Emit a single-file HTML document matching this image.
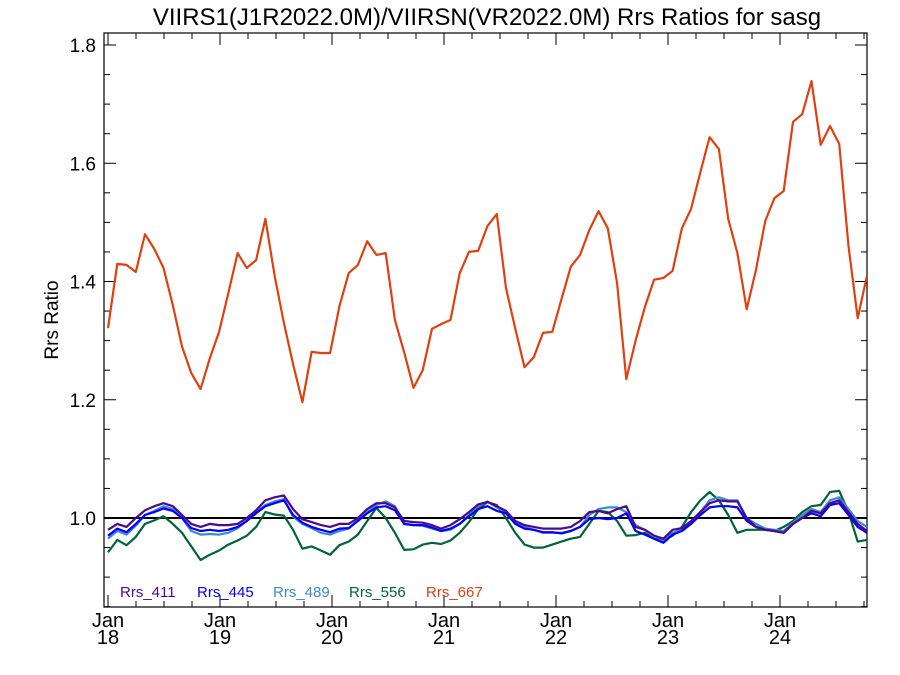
<!DOCTYPE html>
<html><head><meta charset="utf-8"><style>
body{margin:0;background:#fff;}
svg{display:block;font-family:"Liberation Sans",sans-serif;}
</style></head><body>
<svg id="chart" width="900" height="675" viewBox="0 0 900 675">
<text x="487" y="25" text-anchor="middle" font-size="24">VIIRS1(J1R2022.0M)/VIIRSN(VR2022.0M)  Rrs Ratios for sasg</text>
<text transform="translate(58,320) rotate(-90)" text-anchor="middle" font-size="19">Rrs Ratio</text>
<defs><clipPath id="pc"><rect x="104" y="33" width="763" height="574"/></clipPath></defs>
<g id="axes"></g>
<g id="series" clip-path="url(#pc)"></g>
<g id="legend"></g>
</svg>
<script>
const red=[1.321,1.430,1.428,1.416,1.480,1.455,1.423,1.36,1.29,1.245,1.218,1.27,1.315,1.38,1.448,1.423,1.436,1.506,1.41,1.33,1.26,1.196,1.281,1.279,1.279,1.358,1.414,1.428,1.468,1.445,1.448,1.335,1.28,1.220,1.250,1.320,1.328,1.335,1.414,1.450,1.452,1.494,1.514,1.389,1.32,1.255,1.272,1.313,1.315,1.37,1.425,1.445,1.487,1.519,1.490,1.397,1.235,1.30,1.357,1.403,1.406,1.418,1.490,1.523,1.585,1.644,1.624,1.506,1.448,1.353,1.419,1.502,1.541,1.553,1.670,1.683,1.739,1.631,1.663,1.633,1.46,1.338,1.41];
const green=[.942,.963,.954,.968,.990,.996,1.003,.99,.975,.952,.929,.938,.945,.955,.962,.970,.985,1.010,1.006,1.004,.98,.948,.952,.945,.938,.954,.960,.972,.995,1.017,1.000,.975,.946,.947,.955,.958,.956,.962,.975,.993,1.015,1.027,1.022,1.000,.975,.955,.950,.950,.955,.960,.965,.968,.990,1.012,1.010,.995,.970,.971,.975,.965,.963,.970,.985,1.010,1.030,1.044,1.030,1.005,.975,.980,.980,.980,.978,.985,.995,1.010,1.020,1.022,1.044,1.046,1.010,.960,.963];
const purple=[.980,.990,.985,1.000,1.013,1.020,1.025,1.020,1.005,.990,.985,.990,.988,.988,.990,1.000,1.013,1.030,1.035,1.038,1.015,.998,.993,.988,.985,.990,.990,1.000,1.015,1.025,1.025,1.018,.995,.993,.992,.988,.982,.988,.998,1.010,1.023,1.027,1.020,1.012,.995,.988,.985,.982,.982,.982,.985,.995,1.010,1.012,1.008,1.015,1.020,.985,.980,.970,.965,.980,.983,.995,1.010,1.025,1.030,1.028,1.028,1.000,.985,.980,.978,.975,.990,1.000,1.012,1.008,1.025,1.030,1.010,.990,.978];
const blue=[.970,.982,.976,.990,1.005,1.010,1.016,1.012,1.000,.983,.978,.980,.978,.980,.985,.995,1.008,1.020,1.025,1.030,1.005,.992,.985,.980,.976,.982,.983,.995,1.008,1.018,1.020,1.013,.990,.988,.988,.984,.978,.982,.990,1.003,1.015,1.020,1.012,1.008,.990,.982,.980,.976,.976,.974,.978,.985,.998,1.000,.998,1.000,1.008,.978,.972,.965,.958,.972,.978,.990,1.005,1.018,1.020,1.020,1.018,.995,.985,.980,.978,.975,.990,1.000,1.008,1.003,1.022,1.025,1.005,.985,.975];
const lblue=[.965,.978,.972,.987,1.005,1.012,1.020,1.015,1.000,.978,.972,.973,.972,.975,.983,.995,1.010,1.022,1.028,1.032,1.002,.990,.983,.975,.972,.978,.982,.997,1.010,1.022,1.028,1.020,.990,.988,.987,.982,.978,.980,.990,1.005,1.020,1.028,1.018,1.010,.992,.985,.980,.975,.975,.975,.978,.985,1.005,1.015,1.018,1.018,1.010,.988,.980,.970,.962,.975,.980,.995,1.010,1.030,1.035,1.030,1.030,1.000,.990,.982,.980,.978,.992,1.005,1.015,1.010,1.030,1.035,1.015,.995,.985];
const yTicks=["1.0","1.2","1.4","1.6","1.8"];
const xYears=["18","19","20","21","22","23","24"];
const seriesNames=["Rrs_411","Rrs_445","Rrs_489","Rrs_556","Rrs_667"];

const NS="http://www.w3.org/2000/svg";
const L=104,R=867,T=33,B=607;
const X0=2018,XPX=112,XOFF=108;
const XEND=X0+(R-XOFF)/XPX;
const sx=t=>XOFF+(t-X0)*XPX;
const sy=v=>518-(v-1.0)*591.25;
function mk(tag,attrs,parent){const e=document.createElementNS(NS,tag);for(const k in attrs)e.setAttribute(k,attrs[k]);parent.appendChild(e);return e;}
const ax=document.getElementById('axes');
const frame=mk('rect',{x:L,y:T,width:R-L,height:B-T,fill:'none',stroke:'#000','stroke-width':1.2},ax);


for(let k=0;k<=19;k++){
  const v=0.85+k*0.05;const y=sy(v);if(y<T)break;
  const major=((k-3)%4===0);
  const len=major?12:6;
  const t1=mk('line',{x1:L,x2:L+len,y1:y,y2:y,stroke:'#000'},ax);
  
  
  const t2=mk('line',{x1:R,x2:R-len,y1:y,y2:y,stroke:'#000'},ax);
  
  
}
yTicks.forEach(s=>{
  const tx=mk('text',{x:L-8,y:sy(parseFloat(s))+7,'text-anchor':'end','font-size':19},ax);
  tx.textContent=s;
  
  
});
for(let q=0;q<28;q++){
  const t=X0+q*0.25;const x=sx(t);if(x>R)break;
  const len=(q%4===0)?12:6;
  const a=mk('line',{x1:x,x2:x,y1:B,y2:B-len,stroke:'#000'},ax);
  
  
  const b=mk('line',{x1:x,x2:x,y1:T,y2:T+len,stroke:'#000'},ax);
  
  
}
xYears.forEach((yr,i)=>{
  const x=sx(X0+i);
  const a=mk('text',{x:x,y:627,'text-anchor':'middle','font-size':20},ax);
  a.textContent='Jan';
  
  
  const b=mk('text',{x:x,y:644,'text-anchor':'middle','font-size':20},ax);
  b.textContent=yr;
  
  
});
const sg=document.getElementById('series');
const ref=mk('line',{x1:L,x2:R,y1:sy(1),y2:sy(1),stroke:'#000','stroke-width':2},sg);


function line(data,color,name){
  const n=data.length;
  const pts=data.map((v,i)=>sx(X0+i*(XEND-X0)/(n-1)).toFixed(1)+','+sy(v).toFixed(1)).join(' ');
  const p=mk('polyline',{points:pts,fill:'none',stroke:color,'stroke-width':2.2,'stroke-linejoin':'round'},sg);
  
  
}
const colors=['#4B0A8C','#0000FF','#3A8AD0','#00643A','#E04010'];
line(green,colors[3],'series-rrs-556');
line(lblue,colors[2],'series-rrs-489');
line(blue,colors[1],'series-rrs-445');
line(purple,colors[0],'series-rrs-411');
line(red,colors[4],'series-rrs-667');
const lg=document.getElementById('legend');
const lx=[120,197,273,349,426];
seriesNames.forEach((n,i)=>{
  const t=mk('text',{x:lx[i],y:597,'font-size':15,fill:colors[i]},lg);
  t.textContent=n;
  
  
});
</script>
</body></html>
